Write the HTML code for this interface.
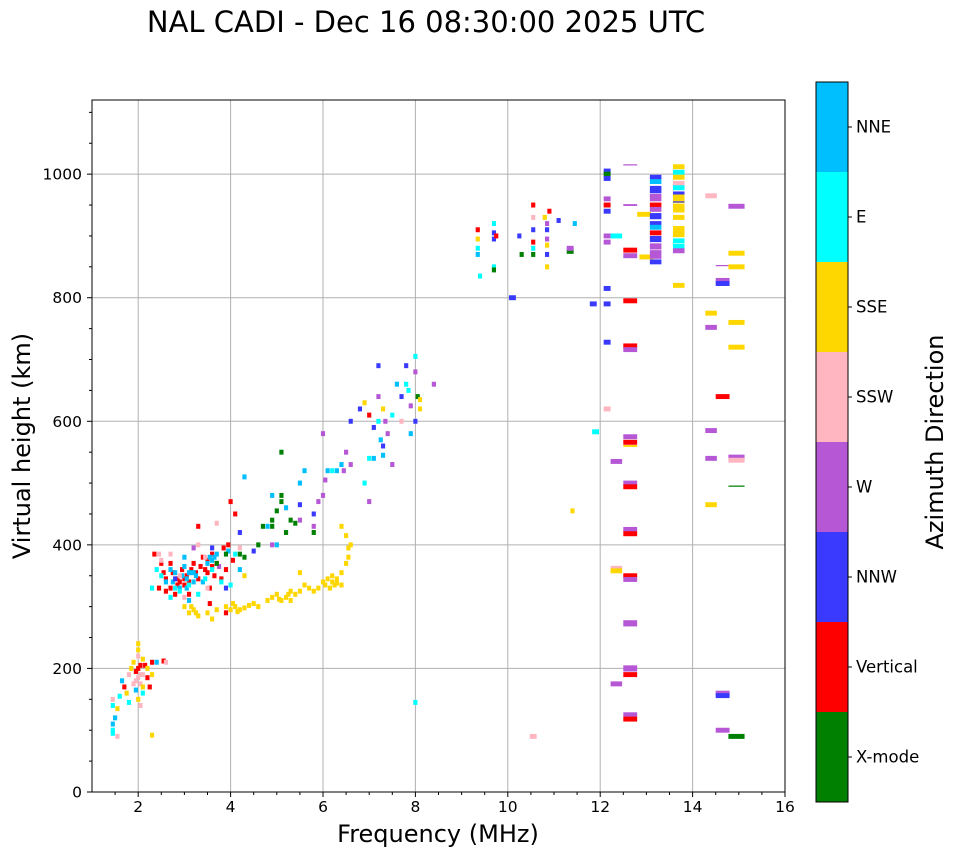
<!DOCTYPE html>
<html><head><meta charset="utf-8"><style>
body{margin:0;background:#fff;}
svg text{font-family:"DejaVu Sans","Liberation Sans",sans-serif;fill:#000;}
</style></head><body>
<svg id="chart" width="958" height="857" xmlns="http://www.w3.org/2000/svg">
<text x="426" y="32" font-size="29" text-anchor="middle">NAL CADI - Dec 16 08:30:00 2025 UTC</text>
<g id="grid"></g><g id="marks"></g><g id="axes"></g><g id="cbar"></g>
</svg>
<script>
const categories=["X-mode","Vertical","NNW","W","SSW","SSE","E","NNE"];
const catColors=["#008000","#ff0000","#3a3aff","#b657d6","#ffb6c1","#ffd700","#00ffff","#00bfff"];
const xTicks=[2,4,6,8,10,12,14,16];
const yTicks=[0,200,400,600,800,1000];
// [freq MHz, height km, category index, span MHz (optional), span km (optional)]
const lowPoints=[[1.45,100,6],[1.45,110,7],[1.45,140,6],[1.45,150,4],[1.5,120,7],[1.55,135,5],[1.6,155,6],[1.65,180,7],[1.7,170,1],[1.75,160,5],[1.8,145,6],[1.8,190,4],[1.85,200,5],[1.9,175,4],[1.9,210,5],[1.95,195,1],[1.95,165,7],[2.0,185,4],[2.0,150,5],[2.0,220,4],[2.0,230,5],[2.05,205,1],[2.05,175,4],[2.1,190,4],[2.1,160,6],[2.1,215,5],[2.15,205,1],[2.2,185,1],[2.2,200,5],[2.25,170,1],[2.3,190,5],[2.3,210,1],[2.4,210,7],[2.3,92,5],[2.55,212,1],[2.6,210,4],[1.55,90,4],[2.0,240,5],[1.95,180,4],[2.05,140,4],[2.0,200,1],[2.05,190,4],[2.1,170,5],[1.45,95,6]];
const mainPoints=[[2.35,385,1],[2.5,370,1],[2.6,345,1],[2.7,330,1],[2.75,355,1],[2.8,320,1],[2.9,340,1],[2.95,360,1],[3.0,335,1],[3.05,350,1],[3.1,320,1],[3.2,370,1],[3.3,345,1],[3.4,380,1],[3.45,360,1],[3.5,355,1],[3.55,330,1],[3.6,385,1],[3.7,370,1],[3.8,345,1],[3.9,360,1],[3.95,400,1],[4.0,470,1],[4.1,450,1],[3.3,430,1],[3.55,305,1],[3.9,290,1],[4.05,375,1],[2.45,330,1],[2.6,325,1],[2.85,335,1],[3.15,360,1],[3.6,365,1],[2.85,345,1],[3.0,345,1],[3.25,355,1],[3.35,365,1],[3.5,375,1],[3.65,350,1],[2.55,355,1],[2.7,370,1],[3.1,340,1],[3.85,395,1],
[2.6,340,7],[2.8,355,7],[2.9,330,7],[3.0,365,7],[3.05,345,7],[3.1,310,7],[3.15,355,7],[3.25,350,7],[3.5,370,7],[3.6,375,7],[3.7,385,7],[3.2,340,7],[2.7,360,7],[3.0,380,7],[3.4,340,7],[3.95,390,7],[4.2,360,7],[4.9,480,7],[4.3,510,7],[3.05,330,7],[2.95,350,7],[3.1,355,7],[3.2,355,7],[3.55,380,7],[3.65,380,7],[2.75,340,7],
[2.3,330,6],[2.5,350,6],[2.7,315,6],[2.9,325,6],[3.1,335,6],[3.3,320,6],[3.45,345,6],[3.8,340,6],[4.0,335,6],[4.1,385,6],[2.4,360,6],[2.8,330,6],[3.6,360,6],
[2.5,375,4],[2.7,385,4],[3.0,315,4],[3.3,400,4],[3.5,330,4],[3.7,435,4],[4.2,395,4],[2.45,385,4],[2.9,350,4],[3.45,380,4],
[3.6,395,2],[3.9,330,2],[4.5,390,2],[2.8,345,2],[4.2,420,2],[5.5,465,2],
[3.2,395,3],[3.75,365,3],[4.9,400,3],[5.5,440,3],
[3.7,370,0],[3.9,385,0],[4.2,385,0],[4.3,380,0],[4.7,430,0],[4.9,440,0],[5.0,455,0],[5.1,470,0],[5.2,420,0],[5.3,440,0],[5.4,435,0],[5.1,480,0],[4.6,400,0],[5.8,420,0],[5.1,550,0],[4.9,430,0]];
const arcPoints=[[3.0,300,5],[3.1,290,5],[3.2,295,5],[3.3,285,5],[3.5,290,5],[3.7,295,5],[3.9,300,5],[4.0,295,5],[4.1,300,5],[4.2,295,5],[4.3,298,5],[4.4,302,5],[4.5,305,5],[4.6,300,5],[4.8,310,5],[4.9,315,5],[5.0,320,5],[5.1,310,5],[5.2,315,5],[5.3,325,5],[5.4,320,5],[5.5,325,5],[5.6,335,5],[5.7,330,5],[5.8,325,5],[5.9,330,5],[6.0,340,5],[6.1,345,5],[6.2,340,5],[6.25,335,5],[6.3,345,5],[6.4,355,5],[6.5,370,5],[6.55,380,5],[6.6,400,5],[6.5,415,5],[6.4,430,5],[3.6,280,5],[4.3,350,5],[5.5,355,5],[5.3,310,5],[6.2,350,5],[6.3,338,5],[6.4,335,5],[6.55,395,5],[3.15,300,5],[3.25,290,5],[4.05,305,5],[4.15,292,5],[5.05,312,5],[5.25,320,5],[6.05,335,5],[6.15,330,5]];
const upperPoints=[[4.8,430,7],[5.0,400,7],[5.2,460,7],[5.5,500,7],[5.6,520,7],[5.8,430,3],[5.9,470,3],[6.0,480,3],[6.05,505,3],[6.2,520,6],[6.3,520,7],[6.4,530,7],[6.5,550,3],[6.6,530,3],[6.0,580,3],[6.6,600,2],[6.8,620,2],[6.9,630,5],[7.0,610,1],[7.1,590,2],[7.2,640,3],[7.2,600,6],[7.3,560,2],[7.3,545,7],[7.4,580,3],[7.5,610,6],[7.5,530,3],[7.6,660,7],[7.7,640,2],[7.7,600,4],[7.8,690,2],[7.85,650,6],[7.9,625,3],[8.0,705,6],[8.0,680,3],[8.05,640,0],[8.0,600,2],[8.1,620,5],[8.1,635,5],[8.4,660,3],[7.9,580,7],[7.2,690,2],[7.1,540,7],[7.0,540,6],[6.9,500,6],[7.3,620,5],[7.0,470,3],[6.1,520,7],[5.8,450,2],[11.4,455,5],[8.0,145,6],[7.25,570,7],[7.35,600,3],[7.8,660,6],[6.45,520,3]];
const highPoints=[[9.35,910,1],[9.35,880,6],[9.35,870,7],[9.35,895,5],[9.4,835,6],[9.7,920,6],[9.7,905,2],[9.7,895,2],[9.7,850,6],[9.7,845,0],[9.75,900,1],[10.1,800,2,0.15],[10.25,900,2],[10.3,870,0],[10.55,950,1],[10.55,930,4],[10.55,910,2],[10.55,880,6],[10.55,870,0],[10.55,890,1],[10.55,90,4,0.15],[10.8,930,5],[10.85,920,3],[10.85,910,2],[10.85,895,3],[10.85,885,5],[10.85,870,2],[10.85,850,5],[10.9,940,1],[11.1,925,2],[11.35,875,0,0.15],[11.35,880,3,0.15],[11.45,920,7],[11.85,790,2,0.15],[11.9,583,6,0.15]];
const columnPoints=[[12.15,1005,2,0.15],[12.15,1000,0,0.15],[12.15,993,2,0.15],[12.15,960,3,0.15],[12.15,950,1,0.15],[12.15,940,2,0.15],[12.15,900,3,0.15],[12.15,890,3,0.15],[12.15,815,2,0.15],[12.15,790,2,0.15],[12.15,728,2,0.15],[12.15,620,4,0.15],[12.35,900,6,0.25],[12.35,535,3,0.25],[12.35,362,4,0.25],[12.35,358,5,0.25],[12.35,175,3,0.25],
[12.65,1015,3,0.3,2],[12.65,950,3,0.3,3],[12.65,877,1,0.3],[12.65,868,3,0.3],[12.65,795,1,0.3,8],[12.65,722,1,0.3],[12.65,716,3,0.3],[12.65,575,3,0.3,8],[12.65,566,1,0.3],[12.65,560,5,0.3,3],[12.65,500,3,0.3],[12.65,494,1,0.3],[12.65,425,3,0.3],[12.65,418,1,0.3],[12.65,350,1,0.3],[12.65,344,3,0.3],[12.65,273,3,0.3,10],[12.65,200,3,0.3,10],[12.65,190,1,0.3],[12.65,125,3,0.3],[12.65,118,1,0.3],[12.95,935,5,0.3],[13.0,866,5,0.3],
[13.2,995,2,0.25],[13.2,988,7,0.25],[13.2,975,2,0.25,12],[13.2,962,3,0.25,12],[13.2,950,1,0.25],[13.2,943,3,0.25],[13.2,932,2,0.25,10],[13.2,920,2,0.25],[13.2,914,7,0.25],[13.2,905,1,0.25],[13.2,895,2,0.25,10],[13.2,883,3,0.25,10],[13.2,870,3,0.25,14],[13.2,858,2,0.25],
[13.7,1012,5,0.25],[13.7,1003,6,0.25],[13.7,995,5,0.25],[13.7,985,4,0.25],[13.7,978,6,0.25],[13.7,968,2,0.25],[13.7,960,5,0.25,14],[13.7,945,5,0.25,14],[13.7,955,2,0.25,2],[13.7,930,5,0.25,8],[13.7,912,5,0.25],[13.7,903,5,0.25,10],[13.7,892,6,0.25],[13.7,883,6,0.25],[13.7,876,3,0.25],[13.7,820,5,0.25],
[14.4,965,4,0.25],[14.4,775,5,0.25],[14.4,752,3,0.25],[14.4,585,3,0.25],[14.4,540,3,0.25],[14.4,465,5,0.25],
[14.65,852,3,0.3,2],[14.65,828,3,0.3],[14.65,823,2,0.3],[14.65,640,1,0.3],[14.65,160,3,0.3],[14.65,156,2,0.3],[14.65,100,3,0.3],
[14.95,948,3,0.35],[14.95,872,5,0.35],[14.95,850,5,0.35],[14.95,760,5,0.35],[14.95,720,5,0.35],[14.95,542,3,0.35],[14.95,537,4,0.35],[14.95,495,0,0.35,2],[14.95,90,0,0.35]];

const X0=92,X1=785,Y0=792,Y1=100,XMIN=1,XMAX=16,YMIN=0,YMAX=1120;
function xs(f){return X0+(f-XMIN)/(XMAX-XMIN)*(X1-X0);}
function ys(h){return Y0-(h-YMIN)/(YMAX-YMIN)*(Y0-Y1);}
const NS="http://www.w3.org/2000/svg";
function mk(tag,attrs,parent){const e=document.createElementNS(NS,tag);for(const k in attrs)e.setAttribute(k,attrs[k]);parent.appendChild(e);return e;}
const grid=document.getElementById('grid'),marks=document.getElementById('marks'),axes=document.getElementById('axes'),cbar=document.getElementById('cbar');
xTicks.forEach(t=>{const l=mk('line',{x1:xs(t),x2:xs(t),y1:Y1,y2:Y0,stroke:'#b0b0b0','stroke-width':1},grid);

});
yTicks.forEach(t=>{const l=mk('line',{x1:X0,x2:X1,y1:ys(t),y2:ys(t),stroke:'#b0b0b0','stroke-width':1},grid);

});
const all=[].concat(lowPoints,mainPoints,arcPoints,upperPoints,highPoints,columnPoints);
all.forEach(p=>{const w=p[3]||0.09,hk=p[4]||8;
const r=mk('rect',{x:xs(p[0]-w/2),y:ys(p[1]+hk/2),width:xs(p[0]+w/2)-xs(p[0]-w/2),height:ys(p[1]-hk/2)-ys(p[1]+hk/2),fill:catColors[p[2]]},marks);

});
const frame=mk('rect',{x:X0,y:Y1,width:X1-X0,height:Y0-Y1,fill:'none',stroke:'#000','stroke-width':1},axes);


xTicks.forEach(t=>{mk('line',{x1:xs(t),x2:xs(t),y1:Y0,y2:Y0+5,stroke:'#000'},axes);
const tx=mk('text',{x:xs(t),y:Y0+20,'font-size':15.5,'text-anchor':'middle'},axes);tx.textContent=t;

});
for(let f=1.5;f<16;f+=0.5){if(f%2!==0)mk('line',{x1:xs(f),x2:xs(f),y1:Y0,y2:Y0+3,stroke:'#000'},axes);}
yTicks.forEach(t=>{mk('line',{x1:X0-5,x2:X0,y1:ys(t),y2:ys(t),stroke:'#000'},axes);
const tx=mk('text',{x:X0-10,y:ys(t)+5.5,'font-size':15.5,'text-anchor':'end'},axes);tx.textContent=t;

});
for(let h=50;h<1120;h+=50){if(h%200!==0)mk('line',{x1:X0-3,x2:X0,y1:ys(h),y2:ys(h),stroke:'#000'},axes);}
const xl=mk('text',{x:438,y:842,'font-size':24,'text-anchor':'middle'},axes);xl.textContent='Frequency (MHz)';


const yl=mk('text',{x:30,y:446,'font-size':24,'text-anchor':'middle',transform:'rotate(-90 30 446)'},axes);yl.textContent='Virtual height (km)';


const CB0=82,CB1=802,CX=816,CW=32,seg=(CB1-CB0)/categories.length;
categories.forEach((c,i)=>{const y=CB1-(i+1)*seg;
const r=mk('rect',{x:CX,y:y,width:CW,height:seg,fill:catColors[i]},cbar);


mk('line',{x1:CX+CW,x2:CX+CW+4,y1:y+seg/2,y2:y+seg/2,stroke:'#000'},cbar);
const t=mk('text',{x:CX+CW+8,y:y+seg/2+5.5,'font-size':16.5},cbar);t.textContent=c;

});
const cf=mk('rect',{x:CX,y:CB0,width:CW,height:CB1-CB0,fill:'none',stroke:'#000'},cbar);


const ct=mk('text',{x:943,y:442,'font-size':24,'text-anchor':'middle',transform:'rotate(-90 943 442)'},cbar);ct.textContent='Azimuth Direction';


</script>
</body></html>
